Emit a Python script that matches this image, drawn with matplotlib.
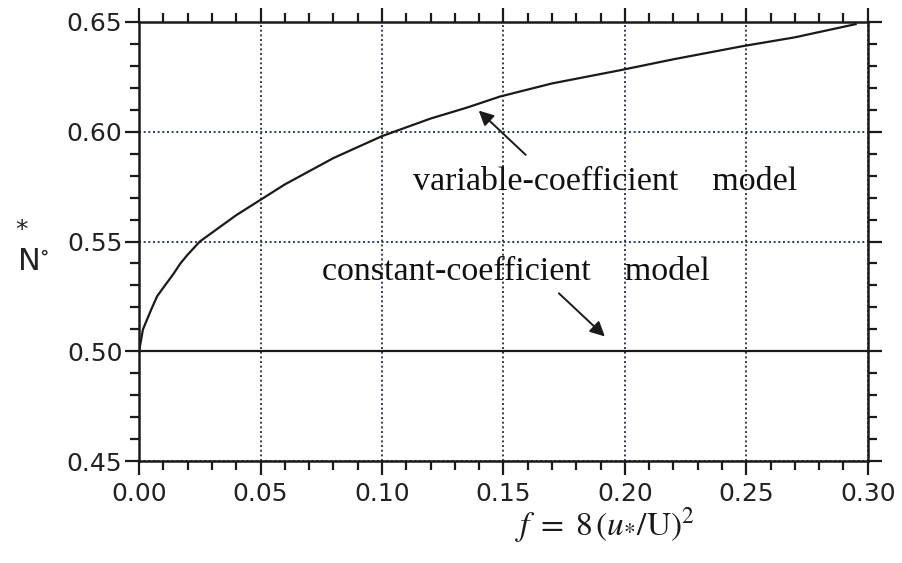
import numpy as np
import matplotlib.pyplot as plt
from matplotlib.ticker import MultipleLocator

# friction factor f and the two model curves
f_var = [0.0, 0.0016, 0.005, 0.0074, 0.01, 0.014, 0.017, 0.02, 0.025, 0.03,
         0.04, 0.05, 0.06, 0.07, 0.08, 0.09, 0.10, 0.12, 0.135, 0.1485, 0.17,
         0.198, 0.22, 0.2486, 0.27, 0.295]
n_var = [0.500, 0.510, 0.519, 0.525, 0.529, 0.535, 0.540, 0.544, 0.550, 0.554,
         0.562, 0.569, 0.576, 0.582, 0.588, 0.593, 0.598, 0.606, 0.611, 0.616, 0.622,
         0.628, 0.633, 0.639, 0.643, 0.649]
f_const = [0.0, 0.30]
n_const = [0.50, 0.50]

xticks = [0.00, 0.05, 0.10, 0.15, 0.20, 0.25, 0.30]
yticks = [0.45, 0.50, 0.55, 0.60, 0.65]

plt.rcParams['mathtext.fontset'] = 'stix'

fig = plt.figure(figsize=(9.03, 5.63), dpi=100)
ax = fig.add_axes([0.154, 0.181, 0.807, 0.780])

ax.plot(f_var, n_var, color='#1a1a1a', lw=1.6)
ax.plot(f_const, n_const, color='#1a1a1a', lw=1.6)

ax.set_xlim(0, 0.30)
ax.set_ylim(0.45, 0.65)
ax.set_xticks(xticks)
ax.set_yticks(yticks)
ax.set_xticklabels(['%.2f' % v for v in xticks])
ax.set_yticklabels(['%.2f' % v for v in yticks])
ax.xaxis.set_minor_locator(MultipleLocator(0.01))
ax.yaxis.set_minor_locator(MultipleLocator(0.01))

ax.tick_params(which='both', direction='out', top=True, right=True,
               color='#1a1a1a', width=1.6)
ax.tick_params(which='major', length=10, labelsize=18, labelcolor='#222222')
ax.tick_params(which='minor', length=6.5)
ax.tick_params(axis='x', which='major', pad=5)
ax.tick_params(axis='y', which='major', pad=2)
for s in ax.spines.values():
    s.set_linewidth(1.8)
    s.set_color('#1a1a1a')

ax.grid(True, which='major', color='#2f3d4c', lw=1.4, ls=(0, (1, 1.4)))

serif = ['Liberation Serif', 'DejaVu Serif']
ax.text(0.1128, 0.577, 'variable-coefficient    model', family=serif,
        fontsize=24.5, ha='left', va='center', color='#111111')
ax.text(0.0753, 0.5364, 'constant-coefficient    model', family=serif,
        fontsize=24.5, ha='left', va='center', color='#111111')

arrow = dict(arrowstyle='-|>', color='#1a1a1a', lw=1.4, mutation_scale=22)
ax.annotate('', xy=(0.139, 0.6105), xytext=(0.160, 0.5886), arrowprops=arrow)
ax.annotate('', xy=(0.1926, 0.5059), xytext=(0.172, 0.5273), arrowprops=arrow)

# axis labels
fig.text(605 / 903, 1 - 525 / 563, r'$f\;=\;8\,(u_{*}/\mathrm{U})^{2}$',
         fontsize=24, ha='center', va='center', color='#1a1a1a')
fig.text(33 / 903, 1 - 261 / 563, r'N$^{\circ}$', fontsize=22,
         ha='center', va='center', color='#222222')
fig.text(22 / 903, 1 - 230 / 563, '*', fontsize=18,
         ha='center', va='center', color='#222222')

fig.savefig('out.png', dpi=100)
